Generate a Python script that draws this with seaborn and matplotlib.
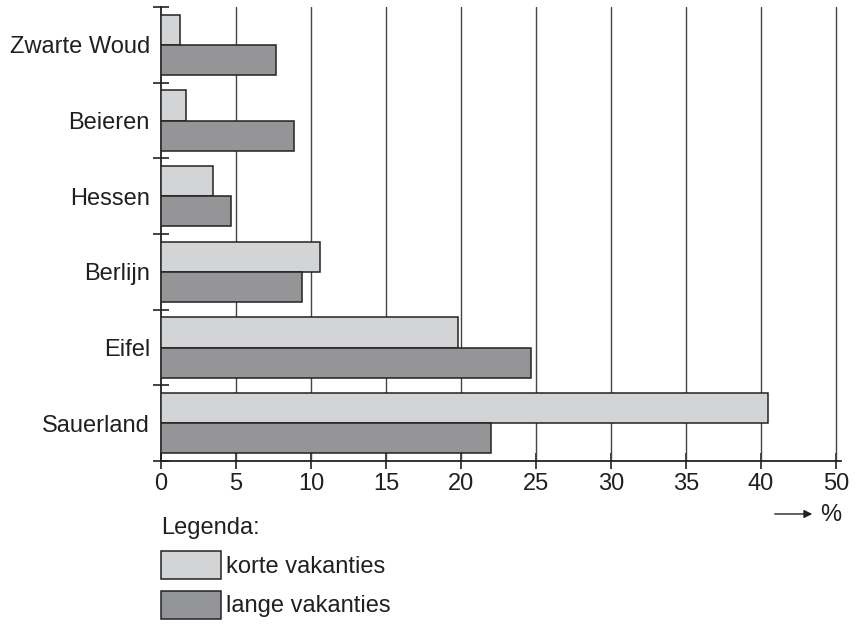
import matplotlib
matplotlib.use("Agg")
import matplotlib.pyplot as plt
import seaborn as sns
import pandas as pd
from matplotlib.patches import Patch

regions = ["Zwarte Woud", "Beieren", "Hessen", "Berlijn", "Eifel", "Sauerland"]
korte = [1.3, 1.7, 3.5, 10.6, 19.8, 40.5]
lange = [7.7, 8.9, 4.7, 9.4, 24.7, 22.0]
series_names = ["korte vakanties", "lange vakanties"]
xtick_pos = [0, 5, 10, 15, 20, 25, 30, 35, 40, 45]
xtick_labels = ["0", "5", "10", "15", "20", "25", "30", "35", "40", "50"]
colors = ["#d3d4d6", "#949599"]

df = pd.DataFrame({
    "regio": regions * 2,
    "pct": korte + lange,
    "soort": [series_names[0]] * len(regions) + [series_names[1]] * len(regions),
})

sns.set_style("white")
plt.rcParams["font.family"] = ["Liberation Sans", "DejaVu Sans"]
FS = 17
TXT = "#231f20"

fig = plt.figure(figsize=(8.56, 6.25), dpi=100)
ax = fig.add_axes([161 / 856, 1 - 461 / 625, (841 - 161) / 856, (461 - 7) / 625])

sns.barplot(data=df, y="regio", x="pct", hue="soort", order=regions,
            hue_order=series_names, palette=colors, orient="h",
            edgecolor="#222222", linewidth=1.1, width=0.8, ax=ax, legend=False,
            zorder=3)

ax.set_xlim(0, 45.35)
ax.set_ylim(len(regions) - 0.5, -0.5)
ax.set_xticks(xtick_pos)
ax.set_xticklabels(xtick_labels, fontsize=FS, color=TXT)
ax.set_xlabel("")
ax.set_ylabel("")
ax.tick_params(axis="x", bottom=True, direction="inout", length=12, width=1.2,
               color="#222222", pad=3)
ax.set_yticks(range(len(regions)), minor=False)
ax.set_yticklabels(regions, fontsize=FS, color=TXT)
ax.tick_params(axis="y", which="major", left=True, length=0, pad=8)
ax.set_yticks([i - 0.5 for i in range(len(regions) + 1)], minor=True)
ax.tick_params(axis="y", which="minor", left=True, direction="inout", length=12,
               width=1.2, color="#222222")

for x in xtick_pos[1:]:
    ax.axvline(x, color="#444444", lw=1.0, zorder=1)

for s in ["top", "right"]:
    ax.spines[s].set_visible(False)
for s in ["left", "bottom"]:
    ax.spines[s].set_color("#222222")
    ax.spines[s].set_linewidth(1.3)

ax.annotate("", xy=(815 / 856, 1 - 514 / 625), xytext=(772 / 856, 1 - 514 / 625),
            xycoords="figure fraction", textcoords="figure fraction",
            arrowprops=dict(arrowstyle="-|>", color="#222222", lw=1.0, mutation_scale=12))
fig.text(820 / 856, 1 - 515 / 625, "%", fontsize=FS, va="center", ha="left", color=TXT)

handles = [Patch(facecolor=colors[i], edgecolor="#222222", linewidth=1.1, label=series_names[i])
           for i in range(2)]
leg = fig.legend(handles=handles, loc="upper left", bbox_to_anchor=(161 / 856, 1 - 517 / 625),
                 frameon=False, title="Legenda:", alignment="left", fontsize=FS,
                 title_fontsize=FS, handlelength=2.55, handleheight=1.45,
                 handletextpad=0.22, labelspacing=0.5, borderaxespad=0, borderpad=0)
for t in leg.get_texts():
    t.set_color(TXT)
leg.get_title().set_color(TXT)

fig.savefig("out.png", dpi=100)
